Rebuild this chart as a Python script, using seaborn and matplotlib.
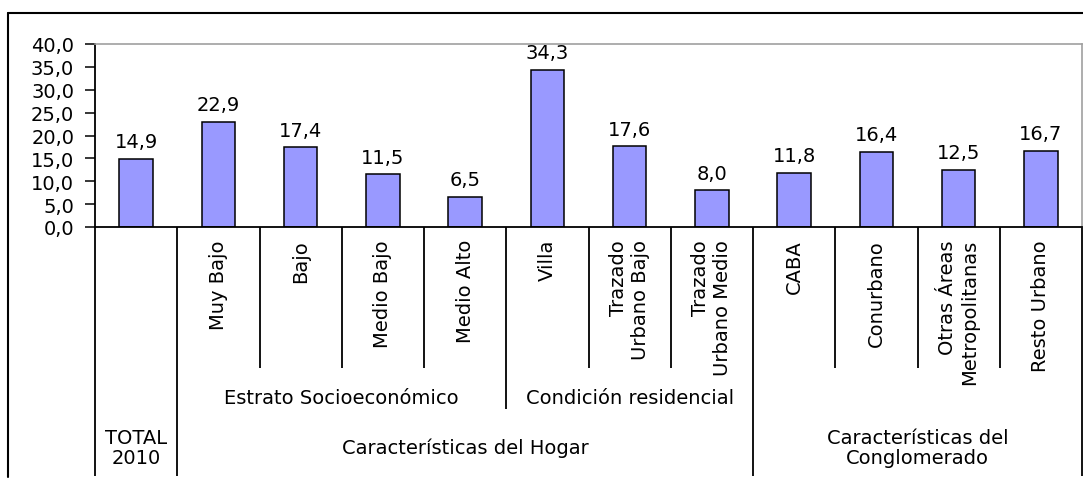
import matplotlib
matplotlib.use("Agg")
import matplotlib.pyplot as plt
import seaborn as sns
from matplotlib.lines import Line2D

labels = ["TOTAL 2010", "Muy Bajo", "Bajo", "Medio Bajo", "Medio Alto", "Villa",
          "Trazado\nUrbano Bajo", "Trazado\nUrbano Medio", "CABA", "Conurbano",
          "Otras Áreas\nMetropolitanas", "Resto Urbano"]
values = [14.9, 22.9, 17.4, 11.5, 6.5, 34.3, 17.6, 8.0, 11.8, 16.4, 12.5, 16.7]

# group labels: (text, centre position)
mid_groups = [("Estrato Socioeconómico", 2.5), ("Condición residencial", 6.0)]
top_groups = [("TOTAL\n2010", 0.0), ("Características del Hogar", 4.0),
              ("Características del\nConglomerado", 9.5)]
# separator kinds between categories: s=short, m=mid, f=full
sep_kind = ["f", "f", "s", "s", "s", "m", "s", "s", "f", "s", "s", "s", "f"]

sns.set_style("white")
plt.rcParams["font.family"] = ["DejaVu Sans"]
plt.rcParams["font.size"] = 14
plt.rcParams["text.color"] = "black"
plt.rcParams["ytick.labelcolor"] = "black"

W, H = 1083, 489
fig = plt.figure(figsize=(W / 100, H / 100), dpi=100)
ax = fig.add_axes([95 / W, 1 - 228 / H, (1082 - 95) / W, (228 - 45) / H])

sns.barplot(x=labels, y=values, color="#9999ff", edgecolor="black", linewidth=1.1,
            width=0.41, saturation=1, ax=ax)

ax.set_ylim(0, 40)
ax.set_xlim(-0.5, len(labels) - 0.5)
ax.set_yticks(range(0, 41, 5))
ax.set_yticklabels([f"{t:.1f}".replace(".", ",") for t in range(0, 41, 5)], fontsize=14,
                   color="black")
ax.tick_params(axis="y", length=7, width=1.1, color="black", pad=8, left=True)
ax.set_xticks([])
ax.set_xlabel("")
ax.set_ylabel("")
for s in ["top", "right"]:
    ax.spines[s].set_color("#a0a0a0")
    ax.spines[s].set_linewidth(1.2)
for s in ["left", "bottom"]:
    ax.spines[s].set_color("black")
    ax.spines[s].set_linewidth(1.3)

for i, v in enumerate(values):
    ax.annotate(f"{v:.1f}".replace(".", ","), (i, v), xytext=(0, 8.5),
                textcoords="offset points", ha="center", va="baseline", fontsize=14,
                color="black")

# category labels (rotated), skip TOTAL which sits in the bottom row
tr = ax.get_xaxis_transform()
for i, lab in enumerate(labels):
    if i == 0:
        continue
    ax.text(i, -0.066, lab, transform=tr, rotation=90, ha="center", va="top",
            multialignment="right", fontsize=14, color="black")

for txt, x in mid_groups:
    ax.text(x, -0.929, txt, transform=tr, ha="center", va="center", fontsize=14,
            color="black")
for txt, x in top_groups:
    ax.text(x, -1.205, txt, transform=tr, ha="center", va="center", fontsize=14,
            linespacing=1.05, color="black")

ends = {"s": -0.770, "m": -0.995, "f": -1.361}
for k, kind in enumerate(sep_kind):
    ax.plot([k - 0.5, k - 0.5], [0, ends[kind]], transform=tr, color="black",
            lw=1.3, clip_on=False, solid_capstyle="butt")

# outer chart frame
fig.add_artist(Line2D([8 / W, 8 / W], [1 - 478 / H, 1 - 14 / H], color="black", lw=1.5))
fig.add_artist(Line2D([8 / W, 1], [1 - 14 / H, 1 - 14 / H], color="black", lw=1.5))

fig.savefig("out.png", dpi=100)
